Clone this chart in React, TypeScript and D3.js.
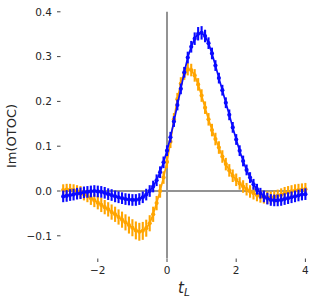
import React from 'react';
import * as d3 from 'd3';

// time axis t_L, step 0.1 from -3 to 4
const tValues = [
  -3.0, -2.9, -2.8, -2.7, -2.6, -2.5, -2.4, -2.3, -2.2, -2.1,
  -2.0, -1.9, -1.8, -1.7, -1.6, -1.5, -1.4, -1.3, -1.2, -1.1,
  -1.0, -0.9, -0.8, -0.7, -0.6, -0.5, -0.4, -0.3, -0.2, -0.1,
  0.0, 0.1, 0.2, 0.3, 0.4, 0.5, 0.6, 0.7, 0.8, 0.9,
  1.0, 1.1, 1.2, 1.3, 1.4, 1.5, 1.6, 1.7, 1.8, 1.9,
  2.0, 2.1, 2.2, 2.3, 2.4, 2.5, 2.6, 2.7, 2.8, 2.9,
  3.0, 3.1, 3.2, 3.3, 3.4, 3.5, 3.6, 3.7, 3.8, 3.9,
  4.0,
];

const blueValues = [
  -0.012, -0.011, -0.009, -0.008, -0.006, -0.005, -0.003, -0.002, -0.001, 0.0,
  -0.001, -0.002, -0.004, -0.007, -0.009, -0.012, -0.014, -0.016, -0.018, -0.019,
  -0.02, -0.02, -0.018, -0.014, -0.008, 0.0, 0.01, 0.024, 0.042, 0.064,
  0.09, 0.12, 0.155, 0.192, 0.228, 0.265, 0.298, 0.322, 0.34, 0.351,
  0.353, 0.346, 0.33, 0.307, 0.28, 0.252, 0.225, 0.197, 0.17, 0.142,
  0.115, 0.09, 0.067, 0.047, 0.03, 0.015, 0.004, -0.005, -0.012, -0.017,
  -0.02, -0.021, -0.021, -0.02, -0.018, -0.016, -0.014, -0.012, -0.01, -0.008,
  -0.007,
];

const blueErrors = [
  0.013, 0.013, 0.013, 0.013, 0.013, 0.013, 0.013, 0.013, 0.013, 0.013,
  0.013, 0.013, 0.013, 0.013, 0.013, 0.013, 0.013, 0.013, 0.013, 0.013,
  0.013, 0.013, 0.013, 0.013, 0.013, 0.013, 0.013, 0.013, 0.013, 0.013,
  0.012, 0.012, 0.012, 0.012, 0.012, 0.012, 0.013, 0.013, 0.014, 0.015,
  0.015, 0.014, 0.013, 0.013, 0.012, 0.012, 0.012, 0.012, 0.012, 0.012,
  0.012, 0.012, 0.012, 0.012, 0.012, 0.012, 0.012, 0.012, 0.013, 0.013,
  0.013, 0.013, 0.013, 0.013, 0.013, 0.013, 0.013, 0.013, 0.013, 0.013,
  0.013,
];

const orangeValues = [
  0.002, 0.003, 0.003, 0.002, 0.0, -0.003, -0.007, -0.011, -0.016, -0.021,
  -0.026, -0.031, -0.036, -0.041, -0.047, -0.052, -0.058, -0.064, -0.07, -0.076,
  -0.082, -0.088, -0.091, -0.089, -0.083, -0.072, -0.052, -0.027, 0.0, 0.03,
  0.065, 0.11, 0.16, 0.205, 0.24, 0.262, 0.272, 0.27, 0.258, 0.238,
  0.213, 0.186, 0.16, 0.136, 0.116, 0.097, 0.077, 0.06, 0.046, 0.034,
  0.025, 0.017, 0.01, 0.004, -0.001, -0.005, -0.009, -0.012, -0.014, -0.015,
  -0.015, -0.013, -0.011, -0.008, -0.005, -0.003, -0.001, 0.001, 0.002, 0.003,
  0.004,
];

const orangeErrors = [
  0.013, 0.013, 0.013, 0.013, 0.013, 0.014, 0.014, 0.014, 0.015, 0.015,
  0.015, 0.016, 0.016, 0.016, 0.017, 0.017, 0.017, 0.018, 0.018, 0.019,
  0.019, 0.02, 0.02, 0.02, 0.019, 0.018, 0.017, 0.016, 0.015, 0.014,
  0.014, 0.014, 0.014, 0.014, 0.014, 0.014, 0.014, 0.014, 0.014, 0.014,
  0.014, 0.014, 0.014, 0.014, 0.014, 0.014, 0.014, 0.014, 0.014, 0.014,
  0.014, 0.014, 0.014, 0.014, 0.014, 0.014, 0.014, 0.014, 0.014, 0.014,
  0.014, 0.014, 0.014, 0.014, 0.014, 0.014, 0.014, 0.014, 0.014, 0.014,
  0.014,
];

const xTicks = [-2, 0, 2, 4];
const yTicks = [-0.1, 0.0, 0.1, 0.2, 0.3, 0.4];

const width = 316;
const height = 307;
const font = 'DejaVu Sans, sans-serif';

const x = d3.scaleLinear().domain([-3, 4]).range([63.2, 305.4]);
const y = d3.scaleLinear().domain([-0.15, 0.4]).range([258.2, 11.8]);

const Series = ({ values, errors, color }: { values: number[]; errors: number[]; color: string }) => {
  const line = d3.line<number>()
    .x((_, i) => x(tValues[i]))
    .y((d) => y(d));
  return (
    <g>
      {values.map((v, i) => (
        <line
          key={'e' + i}
          x1={x(tValues[i])}
          x2={x(tValues[i])}
          y1={y(v - errors[i])}
          y2={y(v + errors[i])}
          stroke={color}
          strokeWidth={2.1}
        />
      ))}
      <path d={line(values) ?? ''} fill="none" stroke={color} strokeWidth={1.7} />
      {values.map((v, i) => (
        <circle key={'m' + i} cx={x(tValues[i])} cy={y(v)} r={2.1} fill={color} />
      ))}
    </g>
  );
};

export default function App() {
  return (
    <svg width={width} height={height} style={{ position: 'absolute', left: 0, top: 0, background: '#fff' }}>
      {/* reference lines at 0 */}
      <line x1={62} x2={307} y1={y(0)} y2={y(0)} stroke="#939393" strokeWidth={2} />
      <line x1={x(0)} x2={x(0)} y1={y(0.4)} y2={y(-0.15)} stroke="#939393" strokeWidth={2} />

      <Series values={orangeValues} errors={orangeErrors} color="#ffa500" />
      <Series values={blueValues} errors={blueErrors} color="#0a0aff" />

      {/* y axis ticks */}
      {yTicks.map((t) => (
        <g key={'y' + t} transform={`translate(0, ${y(t)})`}>
          <line x1={57} x2={60.5} stroke="#444" strokeWidth={1} />
          <text x={52} dy="0.36em" textAnchor="end" fontSize={10.5} fontFamily={font} fill="#262626">
            {d3.format('.1f')(t).replace('-', '\u2212')}
          </text>
        </g>
      ))}

      {/* x axis ticks */}
      {xTicks.map((t) => (
        <g key={'x' + t} transform={`translate(${x(t)}, 0)`}>
          <line y1={258.5} y2={262} stroke="#444" strokeWidth={1} />
          <text y={274} textAnchor="middle" fontSize={10.5} fontFamily={font} fill="#262626">
            {String(t).replace('-', '\u2212')}
          </text>
        </g>
      ))}

      {/* axis labels */}
      <text
        transform="translate(16, 136) rotate(-90)"
        textAnchor="middle"
        fontSize={13}
        fontFamily={font}
        fill="#262626"
      >
        Im(OTOC)
      </text>
      <text x={178} y={293} fontSize={15} fontFamily={font} fontStyle="italic" fill="#262626">
        t
        <tspan dy={3} fontSize={10.5}>L</tspan>
      </text>
    </svg>
  );
}
